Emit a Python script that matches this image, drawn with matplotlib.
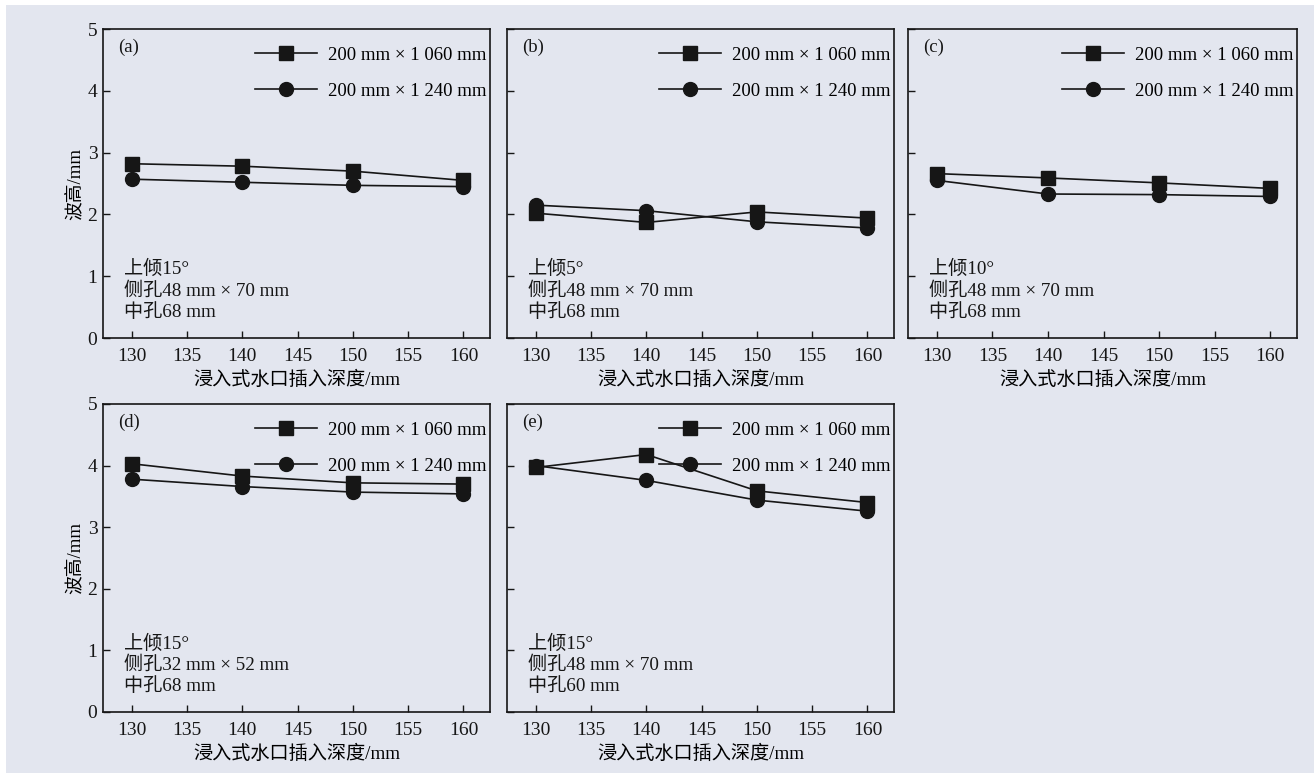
import matplotlib
matplotlib.use("Agg")
import matplotlib.pyplot as plt
from matplotlib.patches import Rectangle

plt.rcParams['font.family'] = ['Liberation Serif', 'Noto Sans CJK SC']
plt.rcParams['axes.unicode_minus'] = False

depth = [130, 140, 150, 160]
series_labels = ['200 mm × 1 060 mm', '200 mm × 1 240 mm']

a_1060 = [2.82, 2.78, 2.70, 2.55]
a_1240 = [2.57, 2.52, 2.47, 2.45]
b_1060 = [2.02, 1.87, 2.04, 1.94]
b_1240 = [2.15, 2.06, 1.88, 1.78]
c_1060 = [2.66, 2.59, 2.51, 2.42]
c_1240 = [2.55, 2.33, 2.32, 2.29]
d_1060 = [4.03, 3.83, 3.72, 3.70]
d_1240 = [3.78, 3.66, 3.57, 3.54]
e_1060 = [3.97, 4.18, 3.59, 3.40]
e_1240 = [4.00, 3.76, 3.44, 3.26]

panel_tags = ['(a)', '(b)', '(c)', '(d)', '(e)']
panel_notes = [
    '上倾15°\n侧孔48 mm × 70 mm\n中孔68 mm',
    '上倾5°\n侧孔48 mm × 70 mm\n中孔68 mm',
    '上倾10°\n侧孔48 mm × 70 mm\n中孔68 mm',
    '上倾15°\n侧孔32 mm × 52 mm\n中孔68 mm',
    '上倾15°\n侧孔48 mm × 70 mm\n中孔60 mm',
]
panel_data = [(a_1060, a_1240), (b_1060, b_1240), (c_1060, c_1240),
              (d_1060, d_1240), (e_1060, e_1240)]

xlabel = '浸入式水口插入深度/mm'
ylabel = '波高/mm'
xticks = [130, 135, 140, 145, 150, 155, 160]
yticks = [0, 1, 2, 3, 4, 5]

W, H = 1314, 773
bg = '#e3e6ef'
ink = '#161616'
fig = plt.figure(figsize=(W / 100, H / 100), dpi=100, facecolor='white')
fig.patches.append(Rectangle((6 / W, 0), 1 - 6 / W, 1 - 5 / H, transform=fig.transFigure,
                             facecolor=bg, edgecolor='none', zorder=-10))

# axes pixel boxes (left, right, top, bottom)
boxes = [(103, 490, 29, 338), (507, 894, 29, 338), (908, 1297, 29, 338),
         (103, 490, 404, 712), (507, 894, 404, 712)]

for i, (box, tag, note, (s1, s2)) in enumerate(zip(boxes, panel_tags, panel_notes, panel_data)):
    l, r, t, b = box
    ax = fig.add_axes([l / W, 1 - b / H, (r - l) / W, (b - t) / H])
    ax.set_facecolor(bg)
    ax.plot(depth, s1, '-s', color=ink, lw=1.2, ms=9.5, label=series_labels[0])
    ax.plot(depth, s2, '-o', color=ink, lw=1.2, ms=10, label=series_labels[1])
    ax.set_xlim(127.4, 162.4)
    ax.set_ylim(0, 5)
    ax.set_xticks(xticks)
    ax.set_yticks(yticks)
    ax.tick_params(direction='in', length=5, width=1.0, labelsize=14, colors=ink)
    ax.tick_params(axis='x', pad=7)
    ax.tick_params(axis='y', pad=4)
    for sp in ax.spines.values():
        sp.set_linewidth(1.2)
        sp.set_color(ink)
    if i in (0, 3):
        ax.set_ylabel(ylabel, fontsize=13.5, labelpad=3)
    else:
        ax.set_yticklabels([])
    ax.set_xlabel(xlabel, fontsize=13.8, labelpad=4)
    ax.text(0.04, 0.94, tag, transform=ax.transAxes, fontsize=13.5, va='center', ha='left',
            color=ink)
    ax.text(0.055, 0.252, note, transform=ax.transAxes, fontsize=13.8, va='top', ha='left',
            linespacing=1.25, color=ink)
    ax.legend(loc='upper right', bbox_to_anchor=(1.026, 0.985), frameon=False,
              fontsize=13.5, handlelength=3.3, labelspacing=1.0, handletextpad=0.6,
              borderaxespad=0.3)

fig.savefig('out.png', dpi=100, facecolor=fig.get_facecolor())
